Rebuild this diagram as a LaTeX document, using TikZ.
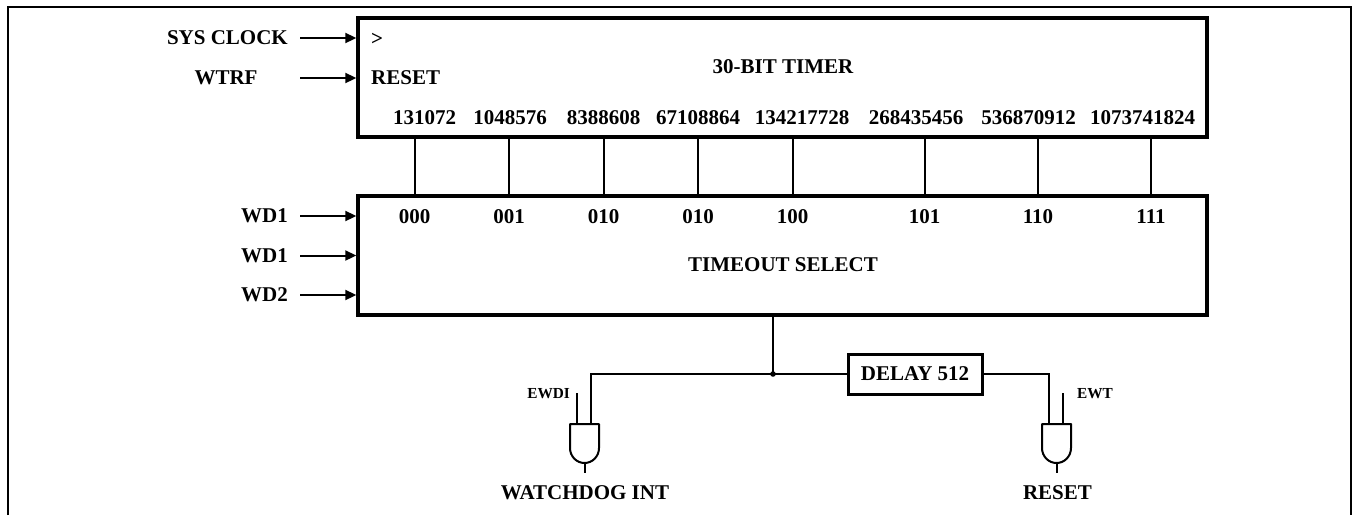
\documentclass[tikz,border=0pt]{standalone}
\usepackage{fontspec}
\setmainfont{Liberation Serif}
\usetikzlibrary{arrows.meta}
\tikzset{
	lbl/.style={font=\fontsize{21}{23}\selectfont\bfseries,inner sep=0pt},
	small lbl/.style={font=\fontsize{15.3}{17}\selectfont\bfseries,inner sep=0pt},
	block/.style={draw,line width=3.4pt,minimum width=849pt,minimum height=119pt,inner sep=0pt},
	wire/.style={line width=2pt},
	input/.style={line width=2pt,-{Stealth[length=11pt,width=10pt,inset=0pt]}},
	gate/.style={line width=2pt,line join=round}}
\begin{document}
\begin{tikzpicture}[x=1pt,y=-1pt]
	\useasboundingbox (0,0) rectangle (1353,515);
	\draw[line width=1.2pt](8,515)|-(1351,7)--(1351,515);
	% blocks
	\node[block](timer) at (782.5,77.5){};
	\node[block](select) at (782.5,255.5){};
	\node[draw,line width=3pt,minimum width=134pt,minimum height=40pt,inner sep=0pt,lbl](delay) at (915,374){DELAY 512};
	\node[lbl](timertext) at (783,67){30-BIT TIMER};
	\node[lbl](selecttext) at (783,265){TIMEOUT SELECT};
	\node[lbl,anchor=west](clk) at (371,39){>};
	\node[lbl,anchor=west](rst) at (371,78){RESET};
	% inputs
	\node[lbl,anchor=east](sysclock) at (288,38){SYS CLOCK};
	\node[lbl](wtrf) at (226,78){WTRF};
	\node[lbl,anchor=east](wda) at (288,216){WD1};
	\node[lbl,anchor=east](wdb) at (288,255.5){WD1};
	\node[lbl,anchor=east](wdc) at (288,295){WD2};
	\draw[input]([xshift=12pt]sysclock.east)--(sysclock-|timer.west);
	\draw[input]([xshift=12pt]sysclock.east|-wtrf)--(wtrf-|timer.west);
	\draw[input]([xshift=12pt]wda.east)--(wda-|select.west);
	\draw[input]([xshift=12pt]wdb.east)--(wdb-|select.west);
	\draw[input]([xshift=12pt]wdc.east)--(wdc-|select.west);
	% counter outputs
	\node[lbl](ca) at (424.5,118){131072};
	\node[lbl](cb) at (510,118){1048576};
	\node[lbl](cc) at (603.5,118){8388608};
	\node[lbl](cd) at (698,118){67108864};
	\node[lbl](ce) at (802,118){134217728};
	\node[lbl](cf) at (916,118){268435456};
	\node[lbl](cg) at (1028.5,118){536870912};
	\node[lbl](ch) at (1142.5,118){1073741824};
	\node[lbl](sa) at (414.5,217){000};
	\node[lbl](sb) at (509,217){001};
	\node[lbl](sc) at (603.5,217){010};
	\node[lbl](sd) at (698,217){010};
	\node[lbl](se) at (792.5,217){100};
	\node[lbl](sf) at (924.5,217){101};
	\node[lbl](sg) at (1038,217){110};
	\node[lbl](sh) at (1151,217){111};
	\draw[wire](sa|-timer.south)--(sa|-select.north);
	\draw[wire](sb|-timer.south)--(sb|-select.north);
	\draw[wire](sc|-timer.south)--(sc|-select.north);
	\draw[wire](sd|-timer.south)--(sd|-select.north);
	\draw[wire](se|-timer.south)--(se|-select.north);
	\draw[wire](sf|-timer.south)--(sf|-select.north);
	\draw[wire](sg|-timer.south)--(sg|-select.north);
	\draw[wire](sh|-timer.south)--(sh|-select.north);
	% output
	\coordinate(tap) at (773,374);
	\coordinate(gia) at (591,424);
	\coordinate(gib) at (1049,424);
	\draw[wire](tap|-select.south)--(tap);
	\draw[wire](gia)|-(tap)--(delay.west);
	\draw[wire](delay.east)-|(gib);
	\fill(tap) circle (2.8pt);
	% gates
	\draw[gate](570,424)--(599,424)--(599,448) arc[start angle=0,end angle=180,x radius=14.5pt,y radius=-15pt]--cycle;
	\draw[gate](1042,424)--(1071,424)--(1071,448) arc[start angle=0,end angle=180,x radius=14.5pt,y radius=-15pt]--cycle;
	\coordinate(gea) at (577,393);
	\coordinate(geb) at (1063,393);
	\draw[gate](gea)--(gea|-gia);
	\draw[gate](geb)--(geb|-gib);
	\node[small lbl,anchor=east](ewdi) at (570,394){EWDI};
	\node[small lbl,anchor=west](ewt) at (1077,394){EWT};
	\node[lbl](wdint) at (585,493){WATCHDOG INT};
	\node[lbl](rstout) at (1057.5,493){RESET};
	\draw[gate](584.5,463)--(584.5,473);
	\draw[gate](1056.5,463)--(1056.5,473);
\end{tikzpicture}
\end{document}
